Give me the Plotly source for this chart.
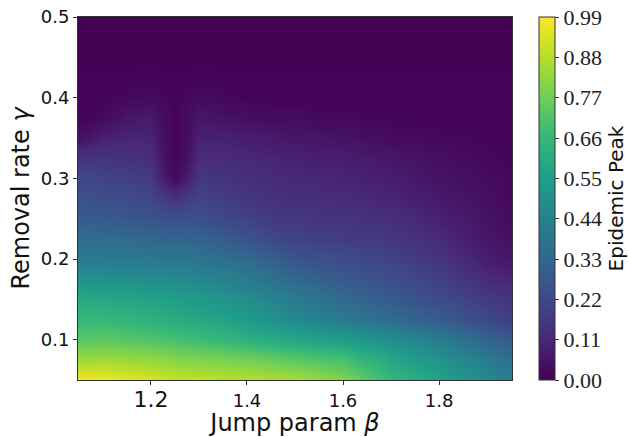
import plotly.graph_objects as go

# Jump parameter beta (columns)
beta = [1.05, 1.10, 1.15, 1.20, 1.225, 1.25, 1.275, 1.30, 1.35, 1.40, 1.45, 1.50, 1.60, 1.70, 1.80, 1.90, 1.95]
# Removal rate gamma (rows)
gamma = [0.05, 0.075, 0.10, 0.125, 0.15, 0.175, 0.20, 0.225, 0.25, 0.275, 0.30, 0.325, 0.35, 0.375, 0.40, 0.425, 0.45, 0.50]

# Epidemic peak values, one list per gamma row
peak = [
    [0.98, 0.97, 0.95, 0.93, 0.92, 0.91, 0.90, 0.90, 0.89, 0.88, 0.87, 0.86, 0.80, 0.66, 0.57, 0.47, 0.42],
    [0.84, 0.85, 0.84, 0.83, 0.82, 0.81, 0.80, 0.80, 0.79, 0.78, 0.76, 0.74, 0.70, 0.59, 0.51, 0.41, 0.36],
    [0.73, 0.74, 0.73, 0.72, 0.71, 0.70, 0.69, 0.68, 0.66, 0.63, 0.61, 0.59, 0.55, 0.49, 0.42, 0.32, 0.28],
    [0.66, 0.66, 0.65, 0.63, 0.62, 0.61, 0.60, 0.59, 0.57, 0.54, 0.51, 0.47, 0.41, 0.35, 0.29, 0.22, 0.18],
    [0.60, 0.59, 0.58, 0.57, 0.56, 0.55, 0.54, 0.53, 0.51, 0.48, 0.45, 0.41, 0.34, 0.28, 0.23, 0.17, 0.15],
    [0.50, 0.50, 0.49, 0.48, 0.48, 0.47, 0.47, 0.46, 0.44, 0.41, 0.37, 0.33, 0.28, 0.24, 0.19, 0.12, 0.10],
    [0.41, 0.41, 0.40, 0.40, 0.39, 0.39, 0.39, 0.38, 0.36, 0.34, 0.30, 0.26, 0.23, 0.20, 0.15, 0.08, 0.06],
    [0.35, 0.35, 0.34, 0.33, 0.32, 0.32, 0.32, 0.31, 0.29, 0.26, 0.22, 0.20, 0.18, 0.16, 0.12, 0.06, 0.04],
    [0.29, 0.28, 0.27, 0.26, 0.25, 0.24, 0.25, 0.25, 0.22, 0.20, 0.17, 0.16, 0.15, 0.13, 0.09, 0.05, 0.03],
    [0.25, 0.24, 0.23, 0.21, 0.18, 0.15, 0.18, 0.20, 0.18, 0.16, 0.14, 0.13, 0.12, 0.10, 0.07, 0.04, 0.02],
    [0.22, 0.20, 0.19, 0.17, 0.08, 0.02, 0.08, 0.16, 0.15, 0.13, 0.12, 0.11, 0.10, 0.08, 0.05, 0.03, 0.02],
    [0.15, 0.15, 0.14, 0.13, 0.05, 0.01, 0.04, 0.12, 0.12, 0.11, 0.10, 0.09, 0.08, 0.06, 0.04, 0.02, 0.01],
    [0.04, 0.09, 0.10, 0.10, 0.04, 0.01, 0.03, 0.09, 0.09, 0.08, 0.07, 0.06, 0.05, 0.03, 0.02, 0.01, 0.005],
    [0.01, 0.02, 0.06, 0.07, 0.03, 0.01, 0.03, 0.06, 0.05, 0.04, 0.03, 0.03, 0.02, 0.01, 0.005, 0.005, 0.005],
    [0.01, 0.01, 0.02, 0.03, 0.02, 0.01, 0.02, 0.03, 0.02, 0.01, 0.005, 0.005, 0.005, 0.005, 0.005, 0.005, 0.005],
    [0.005, 0.005, 0.005, 0.01, 0.005, 0.005, 0.005, 0.01, 0.005, 0.005, 0.005, 0.005, 0.005, 0.005, 0.005, 0.005, 0.005],
    [0.003, 0.003, 0.003, 0.003, 0.003, 0.003, 0.003, 0.003, 0.003, 0.003, 0.003, 0.003, 0.003, 0.003, 0.003, 0.003, 0.003],
    [0.003, 0.003, 0.003, 0.003, 0.003, 0.003, 0.003, 0.003, 0.003, 0.003, 0.003, 0.003, 0.003, 0.003, 0.003, 0.003, 0.003],
]

cbar_ticks = [0.00, 0.11, 0.22, 0.33, 0.44, 0.55, 0.66, 0.77, 0.88, 0.99]
x_ticks = [1.2, 1.4, 1.6, 1.8]
x_ticktext = ['<span style="font-size:22px">1.2</span>', '1.4', '1.6', '1.8']
y_ticks = [0.1, 0.2, 0.3, 0.4, 0.5]

fig = go.Figure(go.Heatmap(
    x=beta, y=gamma, z=peak,
    colorscale="Viridis", zmin=0, zmax=0.99, zsmooth="best",
    colorbar=dict(
        x=1.062, xanchor="left", xpad=0, y=0.5, yanchor="middle", len=1, ypad=0,
        thickness=16, outlinewidth=1, outlinecolor="#333",
        tickvals=cbar_ticks, ticktext=[f"{v:.2f}" for v in cbar_ticks],
        ticks="outside", ticklen=4, tickcolor="#333",
        tickfont=dict(family="Liberation Serif", size=22, color="#222"),
        title=dict(text="Epidemic Peak", side="right",
                   font=dict(family="DejaVu Sans", size=20, color="#111")),
    ),
))

fig.update_layout(
    width=629, height=437,
    margin=dict(l=78, r=117, t=17, b=57, autoexpand=False),
    paper_bgcolor="white", plot_bgcolor="white",
    xaxis=dict(
        range=[1.048, 1.952], tickvals=x_ticks, ticktext=x_ticktext,
        ticks="outside", ticklen=4, tickcolor="#333", automargin=False,
        tickfont=dict(family="DejaVu Sans", size=18, color="#111"),
        showline=True, linecolor="#333", linewidth=1, mirror=True,
        showgrid=False, zeroline=False,
        title=dict(text="Jump param <i>β</i>", standoff=2,
                   font=dict(family="DejaVu Sans", size=24, color="#111")),
    ),
    yaxis=dict(
        range=[0.05, 0.5], tickvals=y_ticks, tickformat=".1f",
        ticks="outside", ticklen=4, tickcolor="#333", automargin=False,
        tickfont=dict(family="DejaVu Sans", size=18, color="#111"),
        showline=True, linecolor="#333", linewidth=1, mirror=True,
        showgrid=False, zeroline=False,
        title=dict(text="Removal rate <i>γ</i>", standoff=4,
                   font=dict(family="DejaVu Sans", size=24, color="#111")),
    ),
)

fig.write_html("out.html", config={"displayModeBar": False},
               post_script="document.body.style.margin='0';document.body.style.padding='0';")
